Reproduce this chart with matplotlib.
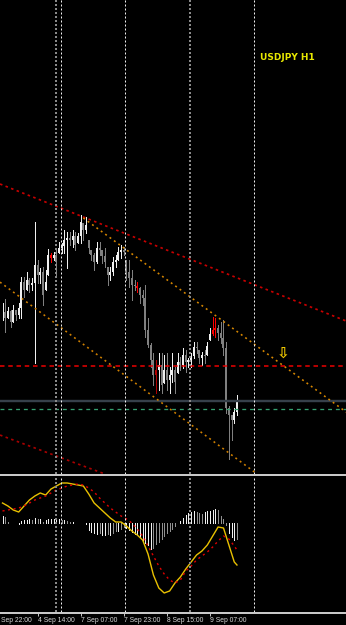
import matplotlib.pyplot as plt
from matplotlib.lines import Line2D
from matplotlib.transforms import blended_transform_factory

# USDJPY H1 bars, prices
high = [83.97, 84.01, 83.93, 83.90, 83.95, 83.90, 83.97, 84.23, 84.23, 84.28,
        84.22, 84.22, 84.78, 84.40, 84.32, 84.33, 84.30, 84.51, 84.47, 84.48,
        84.50, 84.58, 84.57, 84.70, 84.68, 84.68, 84.70, 84.68, 84.67, 84.85,
        84.77, 84.83, 84.60, 84.50, 84.47, 84.58, 84.58, 84.50, 84.52, 84.33,
        84.33, 84.43, 84.45, 84.53, 84.55, 84.53, 84.40, 84.40, 84.30, 84.20,
        84.18, 84.13, 84.10, 84.15, 83.82, 83.57, 83.47, 83.40, 83.47, 83.47,
        83.45, 83.47, 83.33, 83.47, 83.33, 83.47, 83.43, 83.52, 83.50, 83.42,
        83.47, 83.58, 83.58, 83.50, 83.48, 83.50, 83.58, 83.72, 83.83, 83.82,
        83.75, 83.78, 83.80, 83.58, 82.94, 82.85, 82.92, 83.05]
low = [83.80, 83.68, 83.82, 83.73, 83.78, 83.80, 83.82, 83.82, 84.03, 84.10,
       84.08, 84.10, 83.37, 84.17, 84.17, 83.95, 84.10, 84.25, 84.38, 84.40,
       84.23, 84.47, 84.47, 84.47, 84.32, 84.55, 84.53, 84.50, 84.57, 84.57,
       84.60, 84.67, 84.47, 84.40, 84.30, 84.37, 84.45, 84.37, 84.33, 84.15,
       84.20, 84.25, 84.33, 84.40, 84.42, 84.45, 84.20, 84.13, 84.00, 84.10,
       84.08, 83.97, 83.95, 83.63, 83.53, 83.33, 83.15, 83.07, 83.10, 83.07,
       83.17, 83.10, 83.07, 83.18, 83.07, 83.27, 83.30, 83.32, 83.28, 83.33,
       83.33, 83.42, 83.47, 83.37, 83.35, 83.37, 83.45, 83.60, 83.65, 83.63,
       83.60, 83.57, 83.45, 82.87, 82.41, 82.60, 82.77, 82.85]
close = [83.88, 83.82, 83.89, 83.78, 83.90, 83.85, 83.92, 84.18, 84.10, 84.20,
         84.15, 84.17, 84.35, 84.25, 84.28, 84.05, 84.18, 84.45, 84.42, 84.45,
         84.38, 84.52, 84.54, 84.60, 84.62, 84.60, 84.64, 84.55, 84.64, 84.78,
         84.70, 84.75, 84.52, 84.45, 84.38, 84.52, 84.50, 84.44, 84.38, 84.25,
         84.28, 84.38, 84.40, 84.48, 84.50, 84.48, 84.28, 84.22, 84.15, 84.14,
         84.12, 84.05, 84.02, 83.70, 83.55, 83.40, 83.25, 83.30, 83.35, 83.15,
         83.30, 83.20, 83.25, 83.30, 83.18, 83.38, 83.35, 83.45, 83.38, 83.40,
         83.44, 83.53, 83.52, 83.42, 83.45, 83.44, 83.54, 83.66, 83.70, 83.72,
         83.67, 83.62, 83.52, 82.92, 82.85, 82.80, 82.88, 83.00]
red_bars = [18, 50, 57, 78, 79]

# MACD window (main line, signal, histogram)
macd_x = [0, 2, 4, 6, 8, 10, 12, 14, 16, 18, 20, 22, 24, 26, 28, 30, 32, 34,
          36, 38, 40, 42, 44, 46, 48, 50, 52, 54, 56, 58, 60, 62, 64, 66, 68,
          70, 72, 74, 76, 78, 80, 82, 84, 86, 87]
macd = [0.020, 0.017, 0.013, 0.011, 0.017, 0.023, 0.027, 0.030, 0.028, 0.034,
        0.037, 0.040, 0.040, 0.039, 0.038, 0.037, 0.029, 0.020, 0.015, 0.010,
        0.005, 0.001, 0.001, -0.003, -0.008, -0.012, -0.017, -0.031, -0.052,
        -0.065, -0.070, -0.068, -0.060, -0.054, -0.046, -0.039, -0.032, -0.028,
        -0.022, -0.013, -0.004, -0.005, -0.022, -0.039, -0.042]
signal = [0.012, 0.013, 0.014, 0.015, 0.017, 0.020, 0.023, 0.025, 0.027, 0.030,
          0.033, 0.035, 0.037, 0.038, 0.039, 0.038, 0.035, 0.031, 0.025, 0.020,
          0.015, 0.011, 0.007, 0.004, 0.000, -0.006, -0.013, -0.023, -0.033,
          -0.043, -0.051, -0.057, -0.060, -0.057, -0.048, -0.043, -0.037,
          -0.033, -0.029, -0.024, -0.018, -0.013, -0.016, -0.023, -0.027]
osma = [0.007, 0.006, 0.001, 0.000, 0.000, 0.000, -0.001, 0.002, 0.003, 0.003,
        0.004, 0.003, 0.005, 0.004, 0.004, 0.001, 0.003, 0.004, 0.004, 0.004,
        0.004, 0.004, 0.003, 0.003, 0.002, 0.001, 0.001, 0.000, 0.000, 0.000,
        0.000, -0.001, -0.007, -0.009, -0.010, -0.011, -0.010, -0.012, -0.012,
        -0.011, -0.012, -0.010, -0.008, -0.008, -0.006, -0.004, -0.005, -0.007,
        -0.009, -0.011, -0.011, -0.014, -0.018, -0.020, -0.022, -0.026, -0.025,
        -0.021, -0.019, -0.016, -0.013, -0.010, -0.008, -0.006, -0.003, 0.000,
        0.002, 0.005, 0.008, 0.010, 0.011, 0.012, 0.011, 0.010, 0.009, 0.011,
        0.012, 0.012, 0.013, 0.014, 0.013, 0.007, 0.004, -0.002, -0.010,
        -0.014, -0.017, -0.016]

# horizontal levels and trend lines (bar index, price)
level_red = 83.34
level_bid = 82.99
level_green = 82.91
upper_red = [(0, 85.15), (120, 83.87)]
upper_orange = [(30, 84.82), (130, 82.83)]
lower_orange = [(0, 84.16), (90, 82.35)]
lower_red = [(0, 82.64), (30, 82.34)]
arrow_pos = (104.1, 83.47)

sep_gray = [19.85, 69.57]
sep_white = [21.7, 45.45, 93.3]
tick_pos = [-0.7, 13, 29, 45, 61, 77]
tick_lbl = ["Sep 22:00", "4 Sep 14:00", "7 Sep 07:00", "7 Sep 23:00",
            "8 Sep 15:00", "9 Sep 07:00"]

W, H = 346, 625
fig = plt.figure(figsize=(W / 100, H / 100), dpi=100, facecolor="black")
ax = fig.add_axes([0, 1 - 474 / H, 1, 474 / H], facecolor="black")
ax2 = fig.add_axes([0, 13 / H, 1, 135 / H], facecolor="black")
px = 0.72
xl = (-0.93, 127.46)

# price bars
n = len(close)
for i in range(n):
    o = close[i - 1] if i > 0 else close[i]
    o = min(max(o, low[i]), high[i])
    if i in red_bars:
        c = "#ff0000" if i != 57 else "#b00000"
    elif close[i] >= o:
        c = "#f0f0f0"
    else:
        c = "#808080"
    ax.vlines(i, low[i], high[i], colors=c, lw=1 * px, antialiased=False)
    ax.vlines(i, min(o, close[i]), max(o, close[i]), colors=c, lw=1.5 * px,
              antialiased=False)

ax.axhline(level_red, color="#f00000", lw=1.5 * px, dashes=(3, 2.5))
ax.axhline(level_bid, color="#36404a", lw=2.4 * px)
ax.axhline(level_green, color="#35a070", lw=1.3 * px, dashes=(3, 3))
ax.axline(*upper_red, color="#c80000", lw=1.7 * px, dashes=(1.5, 2))
(x1, y1), (x2, y2) = upper_orange
ax.plot([x1, x2], [y1, y2], color="#d88800", lw=1.6 * px, dashes=(1.2, 2.2))
ax.axline(*lower_orange, color="#d08000", lw=1.6 * px, dashes=(1.2, 2.2))
ax.axline(*lower_red, color="#a80000", lw=1.7 * px, dashes=(1.5, 2))
ax.text(arrow_pos[0], arrow_pos[1], "\u21e9", color="#f0c800", fontsize=11,
        ha="center", va="center", fontweight="bold")

# MACD window
for i in range(n):
    prev = osma[i - 1] if i > 0 else 0
    c = "#f0f0f0" if abs(osma[i]) >= abs(prev) else "#909090"
    ax2.vlines(i, 0, osma[i], colors=c, lw=1 * px, antialiased=False)
ax2.plot(macd_x, macd, color="#e8c000", lw=1.4 * px)
ax2.plot(macd_x, signal, color="#e00000", lw=1.4 * px, dashes=(1.5, 2.5))

ax2.set_xticks(tick_pos[1:])
ax2.tick_params(axis="x", length=3, width=1 * px, color="#c0c0c0",
                direction="out", labelbottom=False)

for a in (ax, ax2):
    for v in sep_gray:
        a.axvline(v, color="#8a8a8a", lw=2 * px, dashes=(1, 1))
    for v in sep_white:
        a.axvline(v, color="#f0f0f0", lw=1 * px, dashes=(2, 2))
    for s in a.spines.values():
        s.set_visible(False)
    a.set_yticks([])
    a.set_xlim(*xl)

ax.set_xticks([])
ax.set_ylim(82.26, 87.00)
ax2.set_ylim(-0.089, 0.046)

# window separators
for y in (1 - 475 / H, 1 - 613 / H):
    fig.add_artist(Line2D([0, 1], [y, y], transform=fig.transFigure,
                          color="#c8c8c8", lw=2 * px))

tr = blended_transform_factory(ax2.transData, fig.transFigure)
for p, s in zip(tick_pos, tick_lbl):
    fig.text(p, 1 - 620 / H, s, transform=tr, color="#d8d8d8", fontsize=4.9,
             family="Liberation Sans", ha="left", va="center")

fig.text(260 / W, 1 - 57 / H, "USDJPY H1", color="#e8e800", fontsize=6.5,
         fontweight="bold", ha="left", va="center")

fig.savefig("out.png", dpi=100, facecolor="black")
